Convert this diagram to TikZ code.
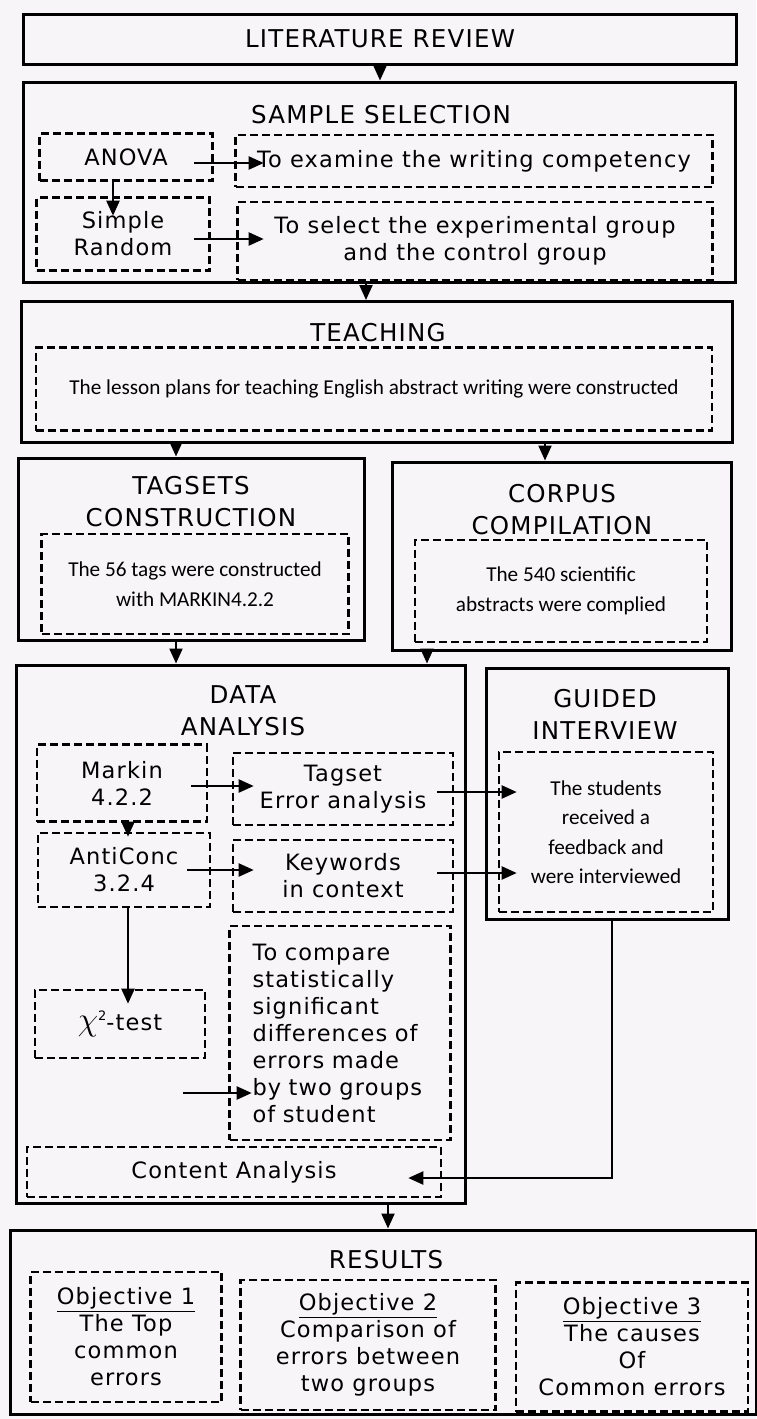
\documentclass[tikz,border=0pt]{standalone}
\usepackage{fontspec}
\setmainfont{DejaVu Sans}[LetterSpace=5]
\newfontfamily\narrowfont{Carlito}
\usetikzlibrary{arrows.meta}

\definecolor{paper}{RGB}{248,245,249}
\newcommand{\bodysize}{\fontsize{22.5}{27}\selectfont}
\newcommand{\headsize}{\fontsize{24.5}{32}\selectfont}
\newcommand{\narrowsize}{\narrowfont\fontsize{21.2}{29.5}\selectfont}

\begin{document}
\begin{tikzpicture}[x=1pt, y=-1pt,
    box/.style={draw, line width=3pt, inner sep=0pt},
    head/.style={font=\headsize, align=center, inner sep=0pt},
    dbox/.style={draw, line width=2.6pt, dash pattern=on 8pt off 4pt, align=center, inner sep=2pt, font=\bodysize},
    arr/.style={line width=2.2pt, -{Triangle[length=15pt,width=13pt]}}]
    \useasboundingbox (0,0) rectangle (756,1419);
    \fill[paper] (0,0) rectangle (756,1419);

    % Literature review
    \node[box, head, minimum width=713, minimum height=50] (lit) at (380,39) {LITERATURE REVIEW};

    % Sample selection
    \node[box, minimum width=712, minimum height=200] (sample) at (379,182) {};
    \node[head] (sampletitle) at (381,115) {SAMPLE SELECTION};
    \node[dbox, minimum width=173, minimum height=47] (anova) at (126,157) {ANOVA};
    \node[dbox, minimum width=477, minimum height=52] (examine) at (474,161) {To examine the writing competency};
    \node[dbox, minimum width=173, minimum height=73] (random) at (123,234) {Simple\\Random};
    \node[dbox, minimum width=475, minimum height=78] (select) at (475,241) {To select the experimental group\\and the control group};

    % Teaching
    \node[box, minimum width=711, minimum height=141] (teach) at (377,372) {};
    \node[head] (teachtitle) at (378,333) {TEACHING};
    \node[dbox, font=\narrowsize, minimum width=676, minimum height=83] (lesson) at (374,389) {The lesson plans for teaching English abstract writing were constructed};

    % Tagsets and corpus
    \node[box, minimum width=346, minimum height=182] (tagsets) at (191,549) {};
    \node[head] (tagtitle) at (191,502) {TAGSETS\\CONSTRUCTION};
    \node[dbox, font=\narrowsize, minimum width=307, minimum height=100] (tags) at (195,584) {The 56 tags were constructed\\with MARKIN4.2.2};
    \node[box, minimum width=339, minimum height=188] (corpus) at (562,556) {};
    \node[head] (corpustitle) at (562,510) {CORPUS\\COMPILATION};
    \node[dbox, font=\narrowsize, minimum width=292, minimum height=102] (abstracts) at (561,591) {The 540 scientific\\abstracts were complied};

    % Data analysis
    \node[box, minimum width=449, minimum height=538] (data) at (241,934) {};
    \node[head] (datatitle) at (243,711) {DATA\\ANALYSIS};
    \node[dbox, minimum width=170, minimum height=77] (markin) at (122,783) {Markin\\4.2.2};
    \node[dbox, minimum width=220, minimum height=72] (tagset) at (343,789) {Tagset\\Error analysis};
    \node[dbox, minimum width=172, minimum height=74] (anticonc) at (124,870) {AntiConc\\3.2.4};
    \node[dbox, minimum width=220, minimum height=72] (keywords) at (343,876) {Keywords\\in context};
    \node[dbox, minimum width=170, minimum height=68] (chi) at (120,1024) {\scalebox{1.6}{$\chi$}{\fontsize{13}{13}\selectfont\raisebox{10pt}{2}}-test};
    \node[dbox, minimum width=221, minimum height=214, text width=175, align=left] (compare) at (340,1033) {To compare\\statistically\\significant\\differences of\\errors made\\by two groups\\of student};
    \node[dbox, minimum width=414, minimum height=50] (content) at (234,1172) {Content Analysis};
    \coordinate (cmpin) at (183,1093);

    % Guided interview
    \node[box, minimum width=242, minimum height=251] (guided) at (607,794) {};
    \node[head] (guidedtitle) at (605,714) {GUIDED\\INTERVIEW};
    \node[dbox, font=\narrowsize, minimum width=214, minimum height=160] (feedback) at (606,832) {The students\\received a\\feedback and\\were interviewed};

    % Results
    \node[box, minimum width=746, minimum height=184] (results) at (383,1322) {};
    \node[head] (resultstitle) at (386,1260) {RESULTS};
    \node[dbox, minimum width=191, minimum height=130] (obj1) at (126,1337) {\underline{Objective 1}\\The Top\\common\\errors};
    \node[dbox, minimum width=255, minimum height=130] (obj2) at (368,1345) {\underline{Objective 2}\\Comparison of\\errors between\\two groups};
    \node[dbox, minimum width=232, minimum height=129] (obj3) at (632,1347) {\underline{Objective 3}\\The causes\\Of\\Common errors};

    % Arrows
    \draw[arr] (lit.south) -- (lit.south |- sample.north);
    \draw[arr] ([shift={(-19.5,6)}]anova.east) -- ([shift={(29.5,2)}]examine.west);
    \draw[arr] ([xshift=-13pt]anova.south) -- ([shift={(-10,19.5)}]random.north);
    \draw[arr] ([shift={(-16.5,5)}]random.east) -- ([shift={(27.5,-2)}]select.west);
    \draw[arr] ([xshift=-13pt]sample.south) -- ([xshift=-11pt]teach.north);
    \draw[arr] ([xshift=-15pt]tagsets.north |- teach.south) -- ([xshift=-15pt]tagsets.north);
    \draw[arr] ([xshift=-17pt]corpus.north |- teach.south) -- ([xshift=-17pt]corpus.north);
    \draw[arr] ([xshift=-15pt]tagsets.south) -- ([xshift=-15pt]tagsets.south |- data.north);
    \draw[arr] ([xshift=-135pt]corpus.south) -- ([xshift=-135pt]corpus.south |- data.north);
    \draw[arr] ([shift={(-17,3)}]markin.east) -- ([shift={(22,-3)}]tagset.west);
    \draw[arr] ([xshift=-24pt]anticonc.east) -- ([shift={(22,-6)}]keywords.west);
    \draw[arr] ([xshift=6pt]markin.south) -- ([shift={(4,5)}]anticonc.north);
    \draw[arr] ([xshift=4pt]anticonc.south) -- ([shift={(8,15)}]chi.north);
    \draw[arr] ([shift={(-17,3)}]tagset.east) -- ([shift={(19,-40)}]feedback.west);
    \draw[arr] ([shift={(-17,-3)}]keywords.east) -- ([shift={(19,41)}]feedback.west);
    \draw[arr] (cmpin) -- ([shift={(23.5,60)}]compare.west);
    \draw[arr] ([xshift=5pt]guided.south) |- ([shift={(-34,6)}]content.east);
    \draw[arr] ([xshift=147pt]data.south) -- ([xshift=147pt]data.south |- results.north);

\end{tikzpicture}
\end{document}
